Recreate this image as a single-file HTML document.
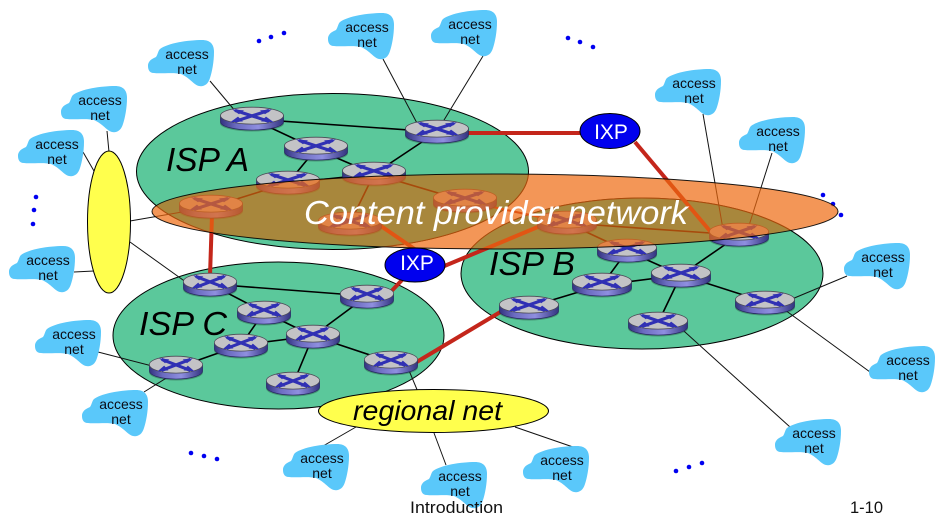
<!DOCTYPE html>
<html><head><meta charset="utf-8"><style>
html,body{margin:0;padding:0;background:#fff}
svg{display:block;filter:blur(.35px)}
text{font-family:"Liberation Sans",sans-serif}
.t{font-size:14px;fill:#0b0b14;text-anchor:middle}
.k{stroke:#000;stroke-width:1.6;fill:none}
.n{stroke:#111;stroke-width:1;fill:none}
.h{stroke:#c4261b;stroke-width:4;fill:none}
.d{fill:#0000f0}
</style></head><body>
<svg width="944" height="524" viewBox="0 0 944 524" xmlns="http://www.w3.org/2000/svg">
<defs>
<clipPath id="cp"><ellipse cx="495" cy="211.500" rx="343" ry="37.500"/></clipPath>
<linearGradient id="b" x1="0" x2="1" y1="0" y2="0"><stop offset="0" stop-color="#33337f"/><stop offset=".25" stop-color="#6b6bc0"/><stop offset=".6" stop-color="#8f8fe0"/><stop offset="1" stop-color="#33337f"/></linearGradient>
<symbol id="r" viewBox="0 0 64 25" preserveAspectRatio="none" overflow="visible">
<ellipse cx="32" cy="17" rx="32" ry="8.500" fill="#1d3a2c" opacity=".35"/>
<path d="M.5 9V15.500C.5 20.500 15 24 32 24S63.500 20.500 63.500 15.500V9Z" fill="url(#b)" stroke="#25255f" stroke-width=".7"/>
<ellipse cx="32" cy="9" rx="31.500" ry="8.800" fill="#c3c3c6" stroke="#4a4a55" stroke-width=".8"/>
<path d="M15 15L49 3.500M15 3.500L49 15" stroke="#3030b4" stroke-width="3.200" fill="none"/>
<path d="M10 16L23 15L18 10ZM54 16L41 15L46 10ZM12 2.500L24 3.500L19 7.500ZM52 2.500L40 3.500L45 7.500Z" fill="#3030b4"/>
</symbol>
<g id="c"><path d="M12 9C20 3 40 0 54 0C62 0 66 4 66 12C66 22 64 32 62 38C60 45 55 47 51 46C46 45 42 38 33 34C26 32 12 34 6 33C1 33 0 29 0 26C0 20 6 18 8 17C10 14 10 11 12 9Z" fill="#5ac8fa"/><text class="t" x="39" y="19">access</text><text class="t" x="39" y="34">net</text></g>
</defs>
<rect width="944" height="524" fill="#fff"/>

<g class="d">
<circle cx="259" cy="41" r="2.300"/><circle cx="271" cy="37" r="2.300"/><circle cx="284" cy="33" r="2.300"/>
<circle cx="568" cy="38" r="2.300"/><circle cx="580" cy="42" r="2.300"/><circle cx="593" cy="47" r="2.300"/>
<circle cx="823" cy="195" r="2.300"/><circle cx="833" cy="204" r="2.300"/><circle cx="841" cy="215" r="2.300"/>
<circle cx="36" cy="197" r="2.300"/><circle cx="34" cy="210" r="2.300"/><circle cx="33" cy="224" r="2.300"/>
<circle cx="191" cy="453" r="2.300"/><circle cx="204" cy="456" r="2.300"/><circle cx="217" cy="459" r="2.300"/>
<circle cx="676" cy="471" r="2.300"/><circle cx="689" cy="467" r="2.300"/><circle cx="702" cy="463" r="2.300"/>
</g>

<!-- ISP ellipses -->
<ellipse cx="332.500" cy="171.500" rx="196" ry="78" fill="#5bc89b" stroke="#000"/>
<ellipse cx="642" cy="273.500" rx="181" ry="75.500" fill="#5bc89b" stroke="#000"/>
<ellipse cx="278.500" cy="335.500" rx="165.500" ry="73.500" fill="#5bc89b" stroke="#000"/>
<g clip-path="url(#cp)">
<ellipse cx="332.500" cy="171.500" rx="196" ry="78" fill="#05cda3" stroke="#000"/>
<ellipse cx="642" cy="273.500" rx="181" ry="75.500" fill="#05cda3" stroke="#000"/>
</g>

<!-- thin access links -->
<g class="n">
<path d="M210 81L236 112"/><path d="M107 131L109 152"/><path d="M83 152L94 171"/><path d="M74 272L94 271"/>
<path d="M130 221L211 207"/><path d="M130 242L190 285"/>
<path d="M98 352L160 368"/><path d="M144 392L176 372"/>
<path d="M383 59L418 125"/><path d="M483 56L441 125"/>
<path d="M703 114L724 235"/><path d="M772 153L746 235"/>
<path d="M847 276L780 304"/><path d="M870 372L785 310"/><path d="M790 427L675 323"/>
<path d="M356 427L323 446"/><path d="M434 433L446 465"/><path d="M515 427L573 447"/><path d="M408 368L418 392"/>
</g>

<!-- backbone links -->
<g class="k">
<path d="M252 119L437 132"/><path d="M252 119L316 149"/><path d="M316 149L374 174"/><path d="M316 149L288 183"/>
<path d="M374 174L437 132"/><path d="M288 183L211 207"/><path d="M288 183L374 174"/><path d="M374 174L465 201"/><path d="M374 174L350 223"/>
<path d="M529 307L602 285"/><path d="M602 285L627 251"/><path d="M602 285L681 275"/><path d="M627 251L681 275"/><path d="M681 275L739 235"/><path d="M681 275L765 302"/><path d="M681 275L658 323"/><path d="M627 251L567 223"/><path d="M567 223L739 235"/>
<path d="M210 284L367 296"/><path d="M210 284L264 312"/><path d="M264 312L313 336"/><path d="M264 312L241 345"/><path d="M241 345L313 336"/><path d="M241 345L176 368"/><path d="M313 336L367 296"/><path d="M313 336L391 362"/><path d="M313 336L293 384"/>
</g>
<g class="h">
<path d="M465 133H582"/><path d="M635 142L715 237"/><path d="M212 215L210 276"/><path d="M465 201L567 223" stroke-width="2"/>
<path d="M375 222L416 250"/><path d="M442 267L545 224"/><path d="M402 280L383 300"/><path d="M415 363L502 311"/>
</g>

<!-- routers -->
<g>
<use href="#r" x="220" y="107" width="64" height="24"/>
<use href="#r" x="405" y="120" width="64" height="24"/>
<use href="#r" x="284" y="137" width="64" height="24"/>
<use href="#r" x="342" y="162" width="64" height="24"/>
<use href="#r" x="256" y="171" width="64" height="24"/>
<use href="#r" x="179" y="195" width="64" height="24"/>
<use href="#r" x="433" y="189" width="64" height="24"/>
<use href="#r" x="318" y="212" width="64" height="24"/>
<use href="#r" x="499" y="296" width="60" height="24"/>
<use href="#r" x="572" y="273" width="60" height="24"/>
<use href="#r" x="597" y="239" width="60" height="24"/>
<use href="#r" x="651" y="264" width="60" height="24"/>
<use href="#r" x="735" y="291" width="60" height="24"/>
<use href="#r" x="628" y="312" width="60" height="24"/>
<use href="#r" x="709" y="223" width="60" height="24"/>
<use href="#r" x="537" y="211" width="60" height="24"/>
<use href="#r" x="183" y="273" width="54" height="24"/>
<use href="#r" x="340" y="285" width="54" height="24"/>
<use href="#r" x="237" y="301" width="54" height="24"/>
<use href="#r" x="286" y="325" width="54" height="24"/>
<use href="#r" x="214" y="334" width="54" height="24"/>
<use href="#r" x="149" y="356" width="54" height="24"/>
<use href="#r" x="364" y="351" width="54" height="24"/>
<use href="#r" x="266" y="372" width="54" height="24"/>
</g>

<!-- yellow networks -->
<ellipse cx="109" cy="222" rx="21.500" ry="71" fill="#ffff4d" stroke="#000"/>
<ellipse cx="433.500" cy="411" rx="115" ry="21.500" fill="#ffff4d" stroke="#000"/>

<!-- access clouds -->
<use href="#c" x="148" y="40"/><use href="#c" x="61" y="86"/><use href="#c" x="18" y="130"/><use href="#c" x="9" y="246"/>
<use href="#c" x="35" y="320"/><use href="#c" x="82" y="390"/><use href="#c" x="328" y="13"/><use href="#c" x="431" y="10"/>
<use href="#c" x="655" y="69"/><use href="#c" x="739" y="117"/><use href="#c" x="844" y="243"/><use href="#c" x="869" y="346"/>
<use href="#c" x="775" y="419"/><use href="#c" x="283" y="444"/><use href="#c" x="421" y="462"/><use href="#c" x="523" y="446"/>

<!-- content provider overlay -->
<ellipse cx="495" cy="211.500" rx="343" ry="37.500" fill="#ee6910" fill-opacity=".7" stroke="#000" stroke-opacity=".9"/>

<!-- IXPs -->
<ellipse cx="610" cy="131" rx="30" ry="17.500" fill="#0000ee" stroke="#000"/>
<ellipse cx="415" cy="265" rx="30" ry="17" fill="#0000ee" stroke="#000"/>
<text x="611" y="139" font-size="21" fill="#fff" text-anchor="middle">IXP</text>
<text x="417" y="270" font-size="21" fill="#fff" text-anchor="middle">IXP</text>

<!-- labels -->
<g font-style="italic" font-size="33">
<text x="166" y="171" textLength="83" lengthAdjust="spacingAndGlyphs">ISP A</text>
<text x="489" y="275" textLength="86" lengthAdjust="spacingAndGlyphs">ISP B</text>
<text x="139" y="335" textLength="88" lengthAdjust="spacingAndGlyphs">ISP C</text>
<text x="304" y="224" fill="#fff" textLength="384" lengthAdjust="spacingAndGlyphs">Content provider network</text>
<text x="353" y="420" font-size="28" textLength="149" lengthAdjust="spacingAndGlyphs">regional net</text>
</g>
<text x="410" y="513" font-size="17" fill="#111" textLength="93" lengthAdjust="spacingAndGlyphs">Introduction</text>
<text x="850" y="513" font-size="17" fill="#111" textLength="33" lengthAdjust="spacingAndGlyphs">1-10</text>
</svg>
</body></html>
